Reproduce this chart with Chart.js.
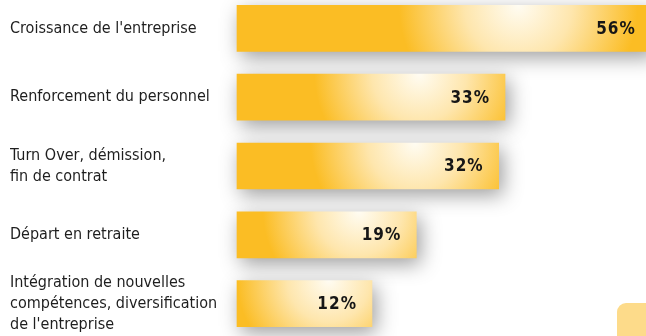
<!DOCTYPE html>
<html>
<head>
<meta charset="utf-8">
<script src="https://cdn.jsdelivr.net/npm/chart.js@4.4.1/dist/chart.umd.min.js"></script>
<style>
  html, body { margin: 0; padding: 0; background: #fff; overflow: hidden; }
  body { width: 646px; height: 336px; position: relative; }
  #wrap { position: absolute; left: 0; top: -6px; width: 646px; height: 344px; }
  #tab { position: absolute; left: 617px; top: 303px; width: 40px; height: 50px;
         background: #fddb8a; border-radius: 9px; }
</style>
</head>
<body>
<div id="tab"></div>
<div id="wrap"><canvas id="myChart"></canvas></div>
<script>
  var labels = [
    "Croissance de l'entreprise",
    'Renforcement du personnel',
    ['Turn Over, démission,', 'fin de contrat'],
    'Départ en retraite',
    ['Intégration de nouvelles', 'compétences, diversification', "de l'entreprise"]
  ];
  var values = [56, 33, 32, 19, 12];
  var valueLabels = ['56%', '33%', '32%', '19%', '12%'];
  // the bars do not start at zero in the original, the axis starts a bit lower
  var axisStart = -9.3;
  var axisEnd = 55.25;

  var BAR_H = 46;

function barFill(ctx) {
  var chart = ctx.chart;
  var x = chart.scales.x, y = chart.scales.y;
  if (!chart.chartArea || !x || !y || ctx.type !== 'data') return '#fbbd24';
  var left = x.getPixelForValue(axisStart);
  var right = x.getPixelForValue(values[ctx.dataIndex]);
  var top = y.getPixelForValue(ctx.dataIndex) - BAR_H / 2;
  var len = right - left;
  var cx = left + len * 0.68;
  var r = len * 0.1 + 78;
  var g = chart.ctx.createRadialGradient(cx, top, 0, cx, top, r);
  g.addColorStop(0, '#fffcf2');
  g.addColorStop(0.45, '#fee6ad');
  g.addColorStop(1, '#fbbd24');
  return g;
}

var barDeco = {
  id: 'barDeco',
  beforeDatasetsDraw: function(chart) {
    var c = chart.ctx;
    c.save();
    c.shadowColor = 'rgba(0,0,0,0.38)';
    c.shadowBlur = 20;
    c.shadowOffsetX = 4;
    c.shadowOffsetY = 6;
  },
  afterDatasetsDraw: function(chart) {
    var c = chart.ctx;
    c.restore();
    var meta = chart.getDatasetMeta(0);
    c.save();
    c.font = 'bold 17px "DejaVu Sans Condensed", "DejaVu Sans", sans-serif';
    c.letterSpacing = '1px';
    c.fillStyle = '#161616';
    c.textAlign = 'right';
    c.textBaseline = 'middle';
    meta.data.forEach(function(bar, i) {
      c.fillText(valueLabels[i], bar.x - 15, bar.y + 1);
    });
    c.restore();
  }
};

function drawChart() {
  const data = {
    labels: labels,
    datasets: [{
      data: values,
      base: axisStart,
      backgroundColor: barFill,
      borderWidth: 0,
      barThickness: BAR_H,
      clip: false
    }]
  };

  const config = {
    type: 'bar',
    data: data,
    options: {
      indexAxis: 'y',
      responsive: true,
      maintainAspectRatio: false,
      animation: false,
      layout: { padding: { left: 10, right: 0, top: 0, bottom: 0 } },
      plugins: { legend: { display: false }, tooltip: { enabled: false } },
      scales: {
        x: { display: false, min: axisStart, max: axisEnd },
        y: {
          grid: { display: false },
          border: { display: false },
          afterFit: function(scale) {
            scale.width = 227;
            scale.paddingTop = 0;
            scale.paddingBottom = 0;
          },
          ticks: {
            crossAlign: 'far',
            padding: 0,
            color: '#1e1e1e',
            font: { family: '"DejaVu Sans Condensed", sans-serif', size: 16, lineHeight: 1.3 }
          }
        }
      }
    },
    plugins: [barDeco]
  };

  const myChart = new Chart(
      document.getElementById('myChart'),
      config
  );
}

drawChart();
</script>
</body>
</html>
